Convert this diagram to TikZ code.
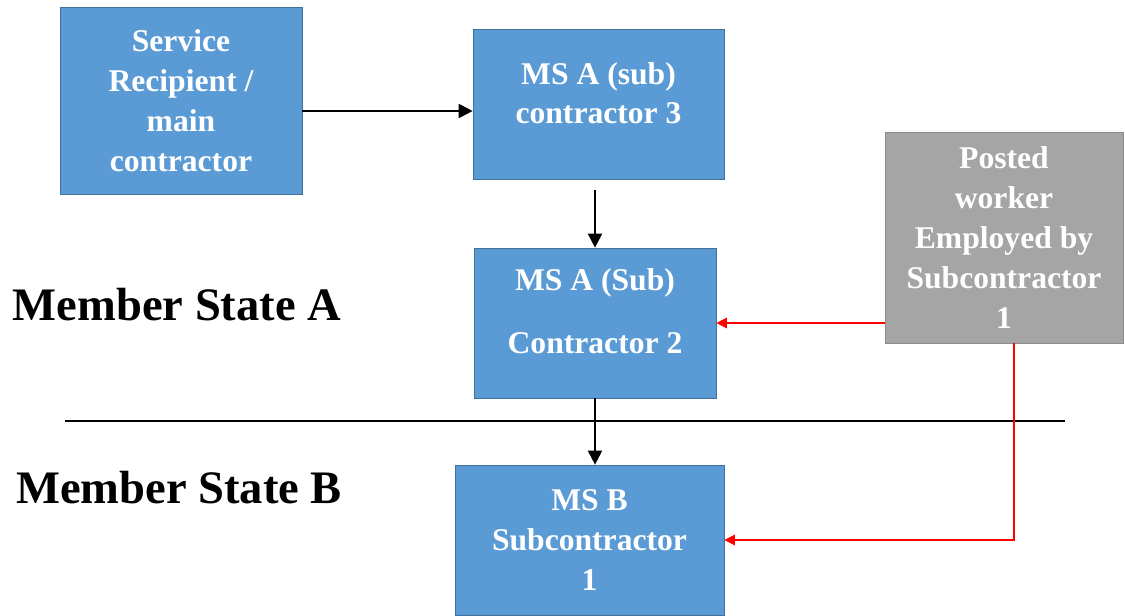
\documentclass[tikz,border=0pt]{standalone}
\usepackage{fontspec}
\setmainfont{Liberation Serif}
\usetikzlibrary{shapes,arrows.meta,positioning}

\definecolor{boxblue}{HTML}{5B9BD5}
\definecolor{boxblueline}{HTML}{41719C}
\definecolor{boxgray}{HTML}{A5A5A5}
\definecolor{boxgrayline}{HTML}{8C8C8C}

\begin{document}
\begin{tikzpicture}[x=0.02cm,y=-0.02cm,
  bluebox/.style={rectangle,draw=boxblueline,fill=boxblue,text=white,align=center,inner sep=0pt,
    font=\bfseries\fontsize{18}{22.7}\selectfont},
  graybox/.style={bluebox,draw=boxgrayline,fill=boxgray},
  statelabel/.style={font=\bfseries\fontsize{26.5}{30}\selectfont},
  arr/.style={-{Triangle[width=8pt,length=8pt]},line width=1.1pt},
  redarr/.style={-{Triangle[width=6pt,length=6pt]},red,line width=0.85pt}]
\useasboundingbox (0,0) rectangle (1125,615);
% boxes
\node [bluebox,minimum width=4.84cm,minimum height=3.74cm] (service) at (181,100.5) {Service\\Recipient /\\main\\contractor};
\node [bluebox,minimum width=5.02cm,minimum height=3.0cm,text depth=12.5pt] (c3) at (598.5,104) {MS A (sub)\\contractor 3};
\node [bluebox,minimum width=4.84cm,minimum height=3.0cm,text depth=13.6pt] (c2) at (595,323) {MS A (Sub)\\[0.48cm]Contractor 2};
\node [bluebox,minimum width=5.38cm,minimum height=3.0cm] (msb) at (589.5,540) {MS B\\Subcontractor\\1};
\node [graybox,minimum width=4.76cm,minimum height=4.22cm] (posted) at (1004,237.5) {Posted\\worker\\Employed by\\Subcontractor\\1};
% member states
\node [statelabel] (stateA) at (177,305) {Member State A};
\node [statelabel] (stateB) at (179,488) {Member State B};
\draw [line width=1.7pt] (65,421)--(1065,421);
% arrows
\draw [arr] ([yshift=-0.14cm]service.east |- c3) -- ([yshift=-0.14cm]c3.west);
\draw [arr,shorten <=6pt] (c2.north |- c3.south) -- (c2.north);
\draw [arr] (c2.south) -- (c2.south |- msb.north);
\draw [redarr] (c2.east -| posted.west) -- (c2.east);
\draw [redarr] ([xshift=0.2cm]posted.south) |- (msb.east);
\end{tikzpicture}
\end{document}
